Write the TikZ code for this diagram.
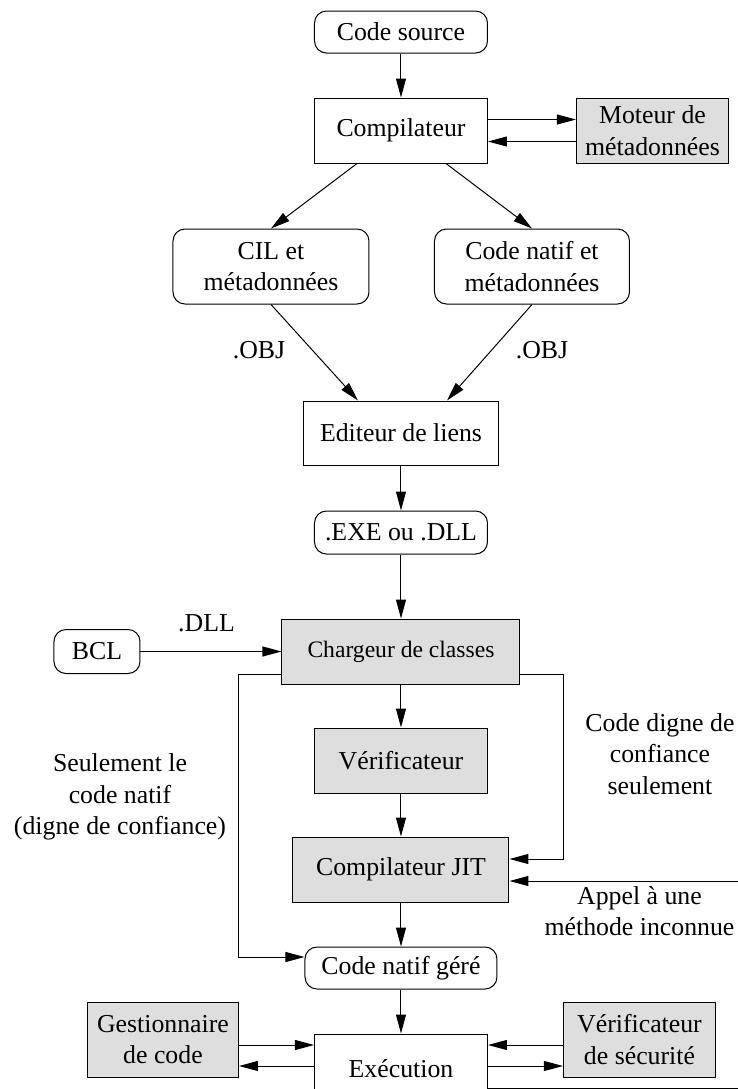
\documentclass[tikz,border=0pt]{standalone}
\usepackage{fontspec}
\setmainfont{Liberation Serif}
\usetikzlibrary{positioning,arrows.meta}

\begin{document}
\begin{tikzpicture}[
          node distance=22pt,
          line width=0.5pt,
          font=\fontsize{12.9pt}{15.75pt}\selectfont,
          bx/.style={draw,minimum width=86.5pt,minimum height=32.5pt,align=center},
          rbx/.style={bx,rounded corners=6pt,minimum height=21pt},
          gbx/.style={bx,fill=gray!26},
          lbl/.style={align=center},
          fl/.style={-{Triangle[length=9.5pt,width=5pt]}}
            ]
    \clip (-200.5pt,16pt) rectangle (168.5pt,-528.5pt);
    % haut : compilation
    \node[rbx] (src) {Code source};
    \node[bx,below=of src] (comp) {Compilateur};
    \node[gbx,right=44pt of comp,minimum width=76pt] (mot) {Moteur de\\métadonnées};
    \node[rbx,below=32.5pt of comp,xshift=-65pt,minimum width=98pt,minimum height=37.5pt] (cil) {CIL et\\métadonnées};
    \node[rbx,below=32.5pt of comp,xshift=65.5pt,minimum width=97.5pt,minimum height=37.5pt] (nat) {Code natif et\\métadonnées};
    \node[bx,below=118.5pt of comp,minimum width=97.5pt,minimum height=32pt] (edl) {Editeur de liens};
    \node[rbx,below=22.5pt of edl,minimum height=21.5pt] (exe) {.EXE ou .DLL};
    % milieu : chargement
    \node[gbx,below=32pt of exe,minimum width=119pt,font=\fontsize{11.8pt}{14pt}\selectfont] (chg) {Chargeur de classes};
    \node[rbx,left=70.5pt of chg,minimum width=43pt,minimum height=22pt] (bcl) {BCL};
    \node[gbx,below=21.5pt of chg] (ver) {Vérificateur};
    \node[gbx,below=21.5pt of ver,minimum width=108pt] (jit) {Compilateur JIT};
    \node[rbx,below=of jit,minimum width=96pt] (ncg) {Code natif géré};
    % bas : execution
    \node[bx,below=of ncg,minimum height=35pt] (exc) {Exécution};
    \node[gbx,left=37.5pt of exc,yshift=14.75pt,minimum width=75.5pt,minimum height=37.5pt] (ges) {Gestionnaire\\de code};
    \node[gbx,right=37.5pt of exc,yshift=14.75pt,minimum width=76pt,minimum height=37.5pt] (vsc) {Vérificateur\\de sécurité};
    % etiquettes
    \node[lbl] (objl) at ([xshift=-6pt,yshift=-23pt]cil.south) {.OBJ};
    \node[lbl] (objr) at ([xshift=5pt,yshift=-23pt]nat.south) {.OBJ};
    \node[lbl] (dll) at ([xshift=33pt,yshift=14.25pt]bcl.east) {.DLL};
    \node[lbl] (cdc) at ([xshift=86pt,yshift=3.25pt]ver.east) {Code digne de\\confiance\\seulement};
    \node[lbl] (slc) at ([xshift=-97pt,yshift=-18.25pt]ver.west) {Seulement le\\code natif\\(digne de confiance)};
    \node[lbl] (app) at ([xshift=65pt,yshift=-20.75pt]jit.east) {Appel à une\\méthode inconnue};
    % fleches
    \draw[fl] (src) -- (comp);
    \draw[fl] ([yshift=5.5pt]comp.east) -- ([yshift=5.5pt]mot.west);
    \draw[fl] ([yshift=-5.5pt]mot.west) -- ([yshift=-5.5pt]comp.east);
    \draw[fl] ([xshift=-22pt]comp.south) -- (cil.north);
    \draw[fl] ([xshift=22.5pt]comp.south) -- (nat.north);
    \draw[fl] (cil.south) -- ([xshift=-21.5pt]edl.north);
    \draw[fl] (nat.south) -- ([xshift=23pt]edl.north);
    \draw[fl] (edl) -- (exe);
    \draw[fl] (exe) -- (chg);
    \draw[fl] (bcl) -- (chg);
    \draw[fl] (chg) -- (ver);
    \draw[fl] (ver) -- (jit);
    \draw[fl] (jit) -- (ncg);
    \draw[fl] (ncg) -- (exc);
    \draw[fl] ([yshift=-11.25pt]chg.west) -- ++(-21.5pt,0) |- ([yshift=5.5pt]ncg.west);
    \draw[fl] ([yshift=-11.25pt]chg.east) -- ++(21.5pt,0) |- ([yshift=5.25pt]jit.east);
    \draw[fl] ([yshift=-9.5pt]exc.east) -- ++(130pt,0) |- ([yshift=-5.75pt]jit.east);
    \draw[fl] ([yshift=-2.75pt]ges.east) -- ([yshift=-2.75pt]ges.east -| exc.west);
    \draw[fl] ([yshift=-13.25pt]ges.east -| exc.west) -- ([yshift=-13.25pt]ges.east);
    \draw[fl] ([yshift=-2.75pt]vsc.west) -- ([yshift=-2.75pt]vsc.west -| exc.east);
    \draw[fl] ([yshift=-13.25pt]vsc.west -| exc.east) -- ([yshift=-13.25pt]vsc.west);
\end{tikzpicture}
\end{document}
